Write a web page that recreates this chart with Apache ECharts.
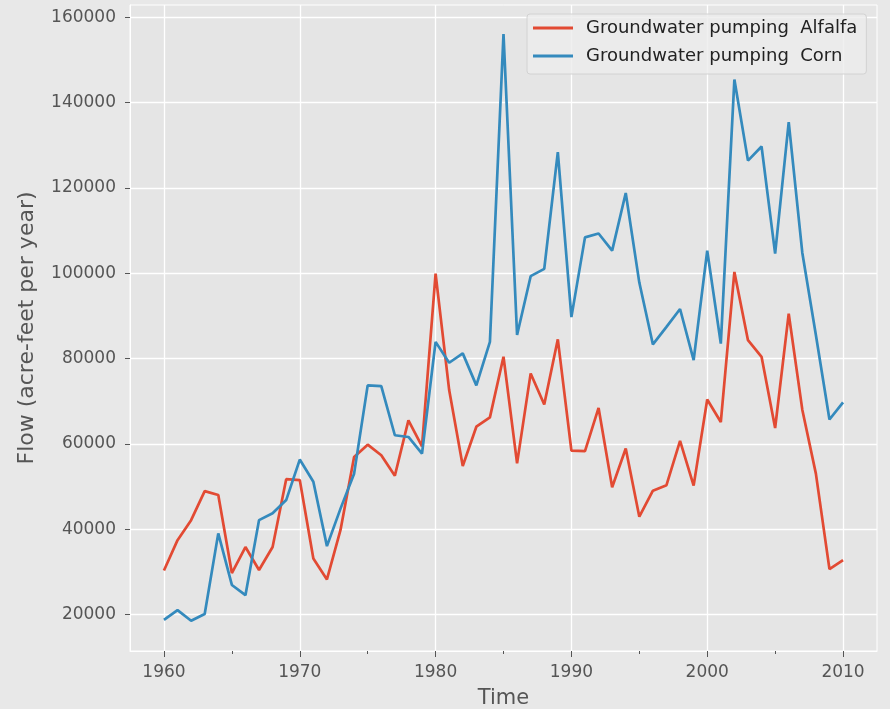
<!DOCTYPE html>
<html>
<head>
<meta charset="utf-8">
<script src="https://cdn.jsdelivr.net/npm/echarts@6/dist/echarts.min.js"></script>
<style>
  html, body { margin: 0; padding: 0; background: #e8e8e8; }
  #chart { width: 890px; height: 709px; }
</style>
</head>
<body>
<div id="chart"></div>
<script>
var years = [1960, 1961, 1962, 1963, 1964, 1965, 1966, 1967, 1968, 1969,
  1970, 1971, 1972, 1973, 1974, 1975, 1976, 1977, 1978, 1979,
  1980, 1981, 1982, 1983, 1984, 1985, 1986, 1987, 1988, 1989,
  1990, 1991, 1992, 1993, 1994, 1995, 1996, 1997, 1998, 1999,
  2000, 2001, 2002, 2003, 2004, 2005, 2006, 2007, 2008, 2009, 2010];

var alfalfa = [30300, 37400, 42100, 48900, 48000, 29700, 35800, 30400, 35800, 51700,
  51500, 33100, 28200, 39800, 56900, 59800, 57300, 52500, 65500, 59400,
  99900, 72600, 54800, 64000, 66200, 80400, 55400, 76500, 69200, 84500,
  58400, 58300, 68400, 49800, 58900, 42900, 49000, 50300, 60700, 50200,
  70400, 65100, 100300, 84300, 80400, 63700, 90500, 68000, 53000, 30600, 32700];

var corn = [18700, 21000, 18500, 20100, 39000, 26900, 24500, 42100, 43700, 46800,
  56300, 51100, 36000, 44800, 53000, 73700, 73500, 62000, 61600, 57700,
  83900, 79000, 81200, 73700, 83900, 156100, 85500, 99300, 101000, 128400,
  89700, 108400, 109300, 105300, 118800, 97800, 83300, 87400, 91600, 79600,
  105300, 83500, 145400, 126400, 129700, 104600, 135400, 104800, 85500, 65700, 69700];

var xTicks = [1960, 1970, 1980, 1990, 2000, 2010];
var xMinorTicks = [1965, 1975, 1985, 1995, 2005];
var yTicks = [20000, 40000, 60000, 80000, 100000, 120000, 140000, 160000];

var seriesNames = ['Groundwater pumping  Alfalfa', 'Groundwater pumping  Corn'];

function pairs(vals) {
  var out = [];
  for (var i = 0; i < years.length; i++) {
    out.push([years[i], vals[i]]);
  }
  return out;
}

function plain(v) {
  return String(v);
}

var font = 'DejaVu Sans';
var chart = echarts.init(document.getElementById('chart'));
chart.setOption({
  backgroundColor: '#e8e8e8',
  animation: false,
  textStyle: { fontFamily: font },
  grid: {
    left: 130, right: 13, top: 5, bottom: 58,
    outerBoundsMode: 'none',
    containLabel: false,
    show: true,
    backgroundColor: '#e5e5e5',
    borderColor: '#ffffff',
    borderWidth: 1
  },
  legend: {
    orient: 'vertical',
    left: 527,
    top: 14,
    data: seriesNames,
    icon: 'rect',
    itemWidth: 40,
    itemHeight: 3,
    itemGap: 8,
    padding: [4, 9, 8, 6],
    backgroundColor: 'rgba(236,236,236,0.8)',
    borderColor: '#d2d2d2',
    borderWidth: 1,
    borderRadius: 3,
    textStyle: {
      fontFamily: font,
      fontSize: 18,
      color: '#222',
      lineHeight: 20,
      padding: [0, 0, 0, 8]
    }
  },
  xAxis: [
    {
      type: 'value',
      min: 1957.5,
      max: 2012.5,
      name: 'Time',
      nameLocation: 'middle',
      nameGap: 37,
      nameTextStyle: { fontFamily: font, fontSize: 21, color: '#555' },
      axisLine: { show: true, lineStyle: { color: '#ffffff', width: 1 } },
      axisTick: { show: true, length: 6, customValues: xTicks, lineStyle: { color: '#555' } },
      axisLabel: { customValues: xTicks, formatter: plain, margin: 13, fontSize: 17, color: '#555', fontFamily: font },
      splitLine: { show: true, lineStyle: { color: '#ffffff', width: 1.3 } }
    },
    {
      type: 'value',
      min: 1957.5,
      max: 2012.5,
      position: 'bottom',
      axisLine: { show: false },
      axisTick: { show: true, length: 3, customValues: xMinorTicks, lineStyle: { color: '#555' } },
      axisLabel: { show: false },
      splitLine: { show: false }
    }
  ],
  yAxis: {
    type: 'value',
    min: 11415,
    max: 162885,
    name: 'Flow (acre-feet per year)',
    nameLocation: 'middle',
    nameGap: 92,
    nameTextStyle: { fontFamily: font, fontSize: 22, color: '#555' },
    axisLine: { show: true, lineStyle: { color: '#ffffff', width: 1 } },
    axisTick: { show: true, length: 5, customValues: yTicks, lineStyle: { color: '#555' } },
    axisLabel: { customValues: yTicks, formatter: plain, margin: 14, fontSize: 17, color: '#555', fontFamily: font },
    splitLine: { show: true, lineStyle: { color: '#ffffff', width: 1.3 } }
  },
  series: [
    {
      name: seriesNames[0],
      type: 'line',
      xAxisIndex: 0,
      data: pairs(alfalfa),
      showSymbol: false,
      color: '#E24A33',
      lineStyle: { width: 2.7, color: '#E24A33' }
    },
    {
      name: seriesNames[1],
      type: 'line',
      xAxisIndex: 0,
      data: pairs(corn),
      showSymbol: false,
      color: '#348ABD',
      lineStyle: { width: 2.7, color: '#348ABD' }
    }
  ]
});
</script>
</body>
</html>
